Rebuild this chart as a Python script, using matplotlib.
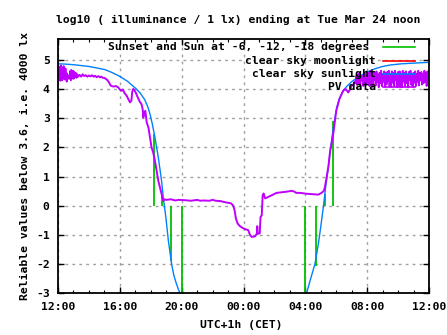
import numpy as np
import matplotlib
matplotlib.use("Agg")
import matplotlib.pyplot as plt
from matplotlib.lines import Line2D

plt.rcParams['axes.unicode_minus'] = False
FONT = ['DejaVu Sans Mono']
FS = 8.2

# ---------------- data (hours since 12:00 on previous day) ----------------
title = "log10 ( illuminance / 1 lx) ending at Tue Mar 24 noon"
ylabel = "Reliable values below 3.6, i.e. 4000 lx"
xlabel = "UTC+1h (CET)"
xtick_pos = [0, 4, 8, 12, 16, 20, 24]
xtick_labels = ["12:00", "16:00", "20:00", "00:00", "04:00", "08:00", "12:00"]
ytick_pos = [-3, -2, -1, 0, 1, 2, 3, 4, 5]

legend_labels = ["Sunset and Sun at -6, -12, -18 degrees",
                 "clear sky moonlight", "clear sky sunlight", "PV data"]

# clear sky sunlight (log10 lx); NaN = below plot range
sun_t = [0.0, 0.5, 1.0, 1.5, 2.0, 2.5, 3.04, 3.5, 4.0, 4.5, 5.0, 5.3, 5.6,
         5.8, 5.95, 6.1, 6.27, 6.49, 6.7, 6.81, 6.98, 7.14, 7.35, 7.5, 7.67,
         7.8, 7.93, 8.05, 12.0, 15.95, 16.08, 16.3, 16.62, 16.84, 16.99, 17.16,
         17.31, 17.49, 17.64, 17.81, 18.03, 18.2, 18.35, 18.5, 18.7, 19.0,
         19.5, 20.0, 20.5, 21.0, 21.5, 22.2, 23.2, 24.0]
sun_y = [4.86, 4.85, 4.83, 4.8, 4.77, 4.72, 4.66, 4.56, 4.43, 4.26, 4.03, 3.87,
         3.64, 3.4, 3.14, 2.8, 2.34, 1.65, 0.85, 0.28, -0.41, -1.2, -2.0, -2.4,
         -2.69, -2.88, -3.03, -3.2, np.nan, -3.2, -3.0, -2.58, -2.0, -1.32,
         -0.75, -0.07, 0.62, 1.31, 1.99, 2.68, 3.36, 3.66, 3.84, 3.97, 4.1,
         4.25, 4.43, 4.58, 4.69, 4.77, 4.82, 4.86, 4.89, 4.91]

# clear sky moonlight: entirely below the plotted range
moon_t = []
moon_y = []

# sunset / twilight markers (impulses)
sunev_t = [6.23, 6.75, 7.33, 8.0, 16.0, 16.67, 17.27, 17.81]
sunev_y = [2.45, 0.34, -1.9, -3.5, -3.5, -2.06, 0.4, 2.9]

# PV measured data
pv_t = [0.00, 0.03, 0.06, 0.09, 0.12, 0.15, 0.18, 0.21, 0.24, 0.27, 0.30, 0.33,
        0.36, 0.39, 0.42, 0.45, 0.48, 0.51, 0.54, 0.57, 0.60, 0.63, 0.66, 0.70,
        0.75, 0.80, 0.83, 0.86, 0.89, 0.92, 0.95, 0.98, 1.01, 1.05, 1.10, 1.15,
        1.20, 1.25, 1.30, 1.40, 1.50, 1.60, 1.70, 1.80, 1.90, 2.00, 2.10, 2.20,
        2.30, 2.40, 2.50, 2.60, 2.70, 2.80, 2.90, 3.00, 3.10, 3.20, 3.30, 3.40,
        3.47, 3.60, 3.75, 3.90, 4.00, 4.12, 4.20, 4.30, 4.44, 4.55, 4.66, 4.75,
        4.80, 4.87, 4.95, 5.05, 5.16, 5.30, 5.40, 5.48, 5.52, 5.58, 5.65, 5.74,
        5.85, 5.95, 6.05, 6.16, 6.27, 6.38, 6.49, 6.60, 6.70, 6.81, 6.90, 7.00,
        7.30, 7.60, 7.80, 8.20, 8.60, 9.00, 9.20, 9.40, 9.80, 10.00, 10.20,
        10.50, 10.80, 11.00, 11.20, 11.34, 11.42, 11.51, 11.62, 11.77, 12.00,
        12.31, 12.42, 12.53, 12.75, 12.86, 12.89, 12.92, 13.05, 13.10, 13.18,
        13.24, 13.30, 13.40, 13.71, 14.14, 14.79, 15.12, 15.30, 15.40, 15.65,
        16.08, 16.84, 17.05, 17.20, 17.27, 17.38, 17.49, 17.60, 17.70, 17.81,
        17.92, 18.00, 18.20, 18.45, 18.60, 18.78, 18.90, 19.00, 19.10, 19.20,
        19.25, 19.30, 19.35, 19.40, 19.45, 19.50, 19.55,
        19.60, 19.65, 19.70, 19.75, 19.80, 19.85, 19.90, 19.95, 20.00, 20.05,
        20.10, 20.15, 20.20, 20.25, 20.30, 20.35, 20.40, 20.45, 20.50, 20.55,
        20.60, 20.65, 20.70, 20.75, 20.80, 20.85, 20.90, 20.95, 21.00, 21.05,
        21.10, 21.15, 21.20, 21.25, 21.30, 21.35, 21.40, 21.45, 21.50, 21.55,
        21.60, 21.65, 21.70, 21.75, 21.80, 21.85, 21.90, 21.95, 22.00, 22.05,
        22.10, 22.15, 22.20, 22.25, 22.30, 22.35, 22.40, 22.45, 22.50, 22.55,
        22.60, 22.65, 22.70, 22.75, 22.80, 22.85, 22.90, 22.95, 23.00, 23.05,
        23.10, 23.15, 23.20, 23.25, 23.30, 23.35, 23.40, 23.45, 23.50, 23.55,
        23.60, 23.65, 23.70, 23.75, 23.80, 23.85, 23.90, 23.95, 24.00]
pv_y = [4.80, 4.30, 4.75, 4.35, 4.70, 4.28, 4.80, 4.40, 4.55, 4.30, 4.72, 4.35,
        4.78, 4.45, 4.62, 4.32, 4.70, 4.40, 4.55, 4.25, 4.50, 4.38, 4.45, 4.35,
        4.40, 4.62, 4.30, 4.65, 4.35, 4.60, 4.40, 4.62, 4.35, 4.58, 4.40, 4.55,
        4.38, 4.50, 4.42, 4.48, 4.42, 4.50, 4.44, 4.47, 4.42, 4.46, 4.43, 4.47,
        4.42, 4.45, 4.40, 4.44, 4.40, 4.42, 4.38, 4.38, 4.34, 4.30, 4.22, 4.12,
        4.10, 4.08, 4.10, 4.05, 3.98, 3.94, 3.98, 3.86, 3.77, 3.65, 3.54, 3.60,
        3.90, 4.00, 3.95, 3.85, 3.71, 3.55, 3.48, 3.30, 3.02, 3.20, 3.25, 2.85,
        2.68, 2.34, 2.00, 1.82, 1.54, 1.20, 0.85, 0.62, 0.40, 0.17, 0.22, 0.20,
        0.22, 0.18, 0.20, 0.19, 0.17, 0.20, 0.17, 0.18, 0.17, 0.20, 0.17,
        0.16, 0.12, 0.10, 0.08, 0.00, -0.15, -0.44, -0.61, -0.70, -0.78,
        -0.84, -1.00, -1.07, -1.05, -0.96, -0.70, -0.96, -0.95, -0.39, -0.33,
        0.36, 0.42, 0.25, 0.33, 0.44, 0.48, 0.51, 0.48, 0.44, 0.44,
        0.41, 0.38, 0.44, 0.51, 0.65, 1.00, 1.34, 1.86, 2.14, 2.48,
        2.91, 3.25, 3.65, 3.94, 4.00, 3.88, 4.00, 4.11, 4.15, 4.25,
        4.20, 4.45, 4.15, 4.50, 4.20, 4.55, 4.12,
        4.35, 4.30, 4.45, 4.10, 4.55, 4.20, 4.50, 4.15, 4.60, 4.25,
        4.55, 4.10, 4.62, 4.20, 4.50, 4.08, 4.58, 4.30, 4.55, 4.12,
        4.60, 4.25, 4.48, 4.06, 4.55, 4.20, 4.62, 4.10, 4.50, 4.25,
        4.60, 4.08, 4.55, 4.15, 4.58, 4.28, 4.62, 4.08, 4.50, 4.08,
        4.60, 4.22, 4.55, 4.10, 4.62, 4.30, 4.52, 4.06, 4.58, 4.15,
        4.60, 4.06, 4.50, 4.06, 4.62, 4.25, 4.55, 4.10, 4.60, 4.20,
        4.48, 4.06, 4.58, 4.30, 4.62, 4.15, 4.50, 4.08, 4.55, 4.22,
        4.60, 4.10, 4.52, 4.25, 4.62, 4.12, 4.55, 4.30, 4.58, 4.15,
        4.50, 4.20, 4.62, 4.25, 4.55, 4.10, 4.60, 4.30, 4.50]

# ---------------- figure ----------------
W, H = 447, 335
fig = plt.figure(figsize=(W / 100, H / 100), dpi=100)
L, R, T, B = 58, 429, 39.3, 293.3
ax = fig.add_axes([L / W, 1 - B / H, (R - L) / W, (B - T) / H])

ax.set_xlim(0, 24)
ax.set_ylim(-3, 5.7)

C_GREEN, C_RED, C_BLUE, C_MAG = "#00c000", "#ff0000", "#0080ff", "#c000ff"

ax.vlines(sunev_t, 0, sunev_y, colors=C_GREEN, lw=1.3, zorder=3)
ax.plot(moon_t, moon_y, color=C_RED, lw=1.2, zorder=3)
ax.plot(sun_t, sun_y, color=C_BLUE, lw=1.0, zorder=4)
ax.plot(pv_t, pv_y, color=C_MAG, lw=1.4, zorder=5)

# ticks / grid
ax.set_xticks(xtick_pos)
ax.set_xticklabels(xtick_labels)
ax.set_xticks(np.arange(0, 25, 1), minor=True)
ax.set_yticks(ytick_pos)
ax.set_yticklabels([str(v) for v in ytick_pos])
ax.tick_params(which='both', direction='in', top=True, right=True,
               labelsize=FS, pad=6, colors='black')
ax.tick_params(which='major', length=4, width=1)
ax.tick_params(which='minor', length=2.5, width=0.8)
for lab in ax.get_xticklabels() + ax.get_yticklabels():
    lab.set_family(FONT)
    lab.set_fontweight('bold')
ax.grid(True, which='major', color='#a0a0a0', lw=1.0, ls=(0, (2, 3)), zorder=1)
for s in ax.spines.values():
    s.set_linewidth(1.3)
    s.set_zorder(6)

# labels
fig.text(238 / W, 1 - 20 / H, title, ha='center', va='center', fontsize=FS,
         family=FONT, fontweight='bold')
fig.text(241 / W, 1 - 325 / H, xlabel, ha='center', va='center', fontsize=FS,
         family=FONT, fontweight='bold')
fig.text(25 / W, 1 - 166 / H, ylabel, ha='center', va='center', fontsize=FS,
         family=FONT, fontweight='bold', rotation=90)

# legend (gnuplot style: right aligned text, sample line to the right)
leg_y = [47.3, 60.7, 74.0, 86.7]
leg_txt_right = [369, 376, 376, 376]
leg_colors = [C_GREEN, C_RED, C_BLUE, C_MAG]
for lab, py, tx, c in zip(legend_labels, leg_y, leg_txt_right, leg_colors):
    fig.text(tx / W, 1 - py / H, lab, ha='right', va='center', fontsize=FS,
             family=FONT, fontweight='bold', zorder=2)
    fig.add_artist(Line2D([383 / W, 415 / W], [1 - py / H, 1 - py / H],
                          color=c, lw=1.2, transform=fig.transFigure))

fig.savefig("out.png", dpi=100)
